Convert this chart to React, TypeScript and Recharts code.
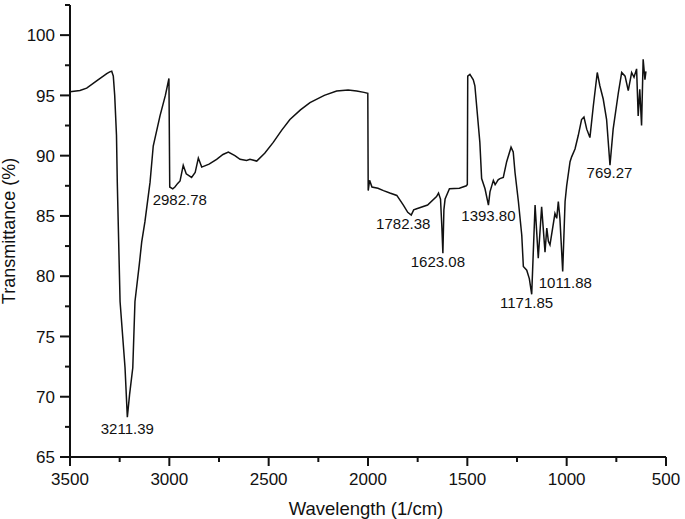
import React from 'react';
import { LineChart, Line, XAxis, YAxis, ReferenceDot } from 'recharts';

// wavenumber (1/cm) and transmittance (%)
const wavenumber = [
  3500, 3450, 3416, 3366, 3315, 3300, 3290, 3282, 3275, 3266, 3262, 3248, 3223, 3211.39,
  3200, 3184, 3173, 3151, 3139, 3123, 3097, 3081, 3047, 3020, 3002,
  2998, 2982.78, 2972, 2958, 2946, 2930, 2915, 2888, 2870, 2854, 2837, 2800, 2762, 2730,
  2703, 2670, 2644, 2611, 2594, 2560, 2520, 2477, 2435, 2393, 2340, 2292, 2220, 2158,
  2100, 2057, 2020, 2001,
  1999, 1992, 1980, 1950, 1922, 1890, 1855, 1822, 1800, 1782.38, 1770, 1755, 1700,
  1655, 1645, 1635, 1628, 1623.08, 1618, 1612, 1590, 1540, 1505, 1500,
  1498, 1487, 1470, 1462, 1437, 1428, 1411, 1393.8, 1386, 1369, 1360, 1352, 1345,
  1336, 1319, 1302, 1280, 1269, 1260, 1243, 1226, 1218, 1201, 1188, 1176,
  1159, 1143, 1126, 1109, 1100, 1092, 1084, 1059, 1050, 1042, 1034, 1020, 1008,
  1000, 983, 975, 958, 942, 925, 913, 899, 883, 866, 846, 833, 816, 799, 782,
  766, 740, 723, 706, 690, 673, 661, 648, 640, 632, 623, 615, 606, 601,
];

const transmittance = [
  95.3, 95.4, 95.6, 96.2, 96.8, 96.95, 97.0, 96.6, 95.0, 91.7, 87.8, 77.9, 72.4, 68.3,
  70.2, 72.4, 77.9, 81.0, 82.85, 84.5, 87.8, 90.8, 93.3, 95.0, 96.4,
  87.4, 87.25, 87.4, 87.7, 87.9, 89.2, 88.5, 88.2, 88.6, 89.8, 89.05, 89.3, 89.7, 90.1,
  90.3, 90.0, 89.7, 89.6, 89.7, 89.55, 90.2, 91.1, 92.1, 93.0, 93.8, 94.4, 95.0, 95.37,
  95.45, 95.37, 95.25, 95.17,
  87.1, 87.95, 87.4, 87.3, 87.1, 86.9, 86.7, 85.9, 85.3, 85.07, 85.5, 85.6, 85.9,
  86.6, 86.9, 86.4, 84.0, 81.9, 85.5, 86.4, 87.25, 87.3, 87.5, 87.6,
  96.6, 96.75, 96.3, 95.8, 91.1, 88.1, 87.25, 85.9, 87.0, 87.95, 87.6, 87.8, 88.0,
  88.1, 88.2, 89.5, 90.7, 90.3, 88.6, 86.2, 83.4, 80.8, 80.5, 79.8, 78.5,
  85.9, 81.5, 85.75, 82.0, 84.0, 82.9, 82.6, 85.2, 84.8, 86.2, 84.8, 80.4, 86.2,
  87.5, 89.5, 89.9, 90.55, 91.65, 93.0, 93.2, 92.2, 91.5, 94.1, 96.9, 95.8, 94.7, 93.0, 89.2,
  92.2, 95.2, 96.9, 96.6, 95.4, 96.9, 96.5, 97.2, 93.3, 95.5, 92.5, 98.0, 96.3, 97.0,
];

const peakWavenumbers = [3211.39, 2982.78, 1782.38, 1623.08, 1393.8, 1171.85, 1011.88, 769.27];
const peakTransmittance = [68.3, 87.25, 85.07, 81.9, 85.9, 78.5, 80.4, 89.2];
const peakLabels = ['3211.39', '2982.78', '1782.38', '1623.08', '1393.80', '1171.85', '1011.88', '769.27'];

const xTicks = [3500, 3250, 3000, 2750, 2500, 2250, 2000, 1750, 1500, 1250, 1000, 750, 500];
const yTicks = [65, 67.5, 70, 72.5, 75, 77.5, 80, 82.5, 85, 87.5, 90, 92.5, 95, 97.5, 100, 102.5];

const data = wavenumber.map((wn, i) => ({ wn, t: transmittance[i] }));

// small nudges so the peak labels sit where they do in the figure
const labelNudge = [
  { dx: 0, dy: 17 },
  { dx: 7, dy: 16 },
  { dx: -8, dy: 14 },
  { dx: -5, dy: 14 },
  { dx: 0, dy: 16 },
  { dx: -6, dy: 14 },
  { dx: 1, dy: 17 },
  { dx: -3, dy: 13 },
];

const font = '"Liberation Sans", Arial, Helvetica, sans-serif';

const YTick = (props: any) => {
  const { x, y, payload } = props;
  const major = payload.value % 5 === 0;
  return (
    <g>
      <line x1={x} y1={y} x2={x - (major ? 10 : 5)} y2={y} stroke="#111" strokeWidth={2} />
      {major && (
        <text x={x - 15} y={y} dy="0.36em" textAnchor="end" fontSize={17} fill="#111" fontFamily={font}>
          {payload.value}
        </text>
      )}
    </g>
  );
};

const XTick = (props: any) => {
  const { x, y, payload } = props;
  const major = payload.value % 500 === 0;
  return (
    <g>
      <line x1={x} y1={y} x2={x} y2={y + (major ? 9 : 5)} stroke="#111" strokeWidth={2} />
      {major && (
        <text x={x} y={y + 28} textAnchor="middle" fontSize={17} fill="#111" fontFamily={font}>
          {payload.value}
        </text>
      )}
    </g>
  );
};

const App = () => {
  return (
    <div style={{ position: 'absolute', left: 0, top: 0, background: '#fff' }}>
      <LineChart width={685} height={519} data={data} margin={{ top: 5, right: 19, bottom: 0, left: 0 }}>
        <XAxis
          dataKey="wn"
          type="number"
          domain={[500, 3500]}
          reversed
          ticks={xTicks}
          interval={0}
          height={62}
          tickSize={0}
          tickMargin={0}
          tick={<XTick />}
          stroke="#111"
          strokeWidth={2}
          allowDataOverflow
          label={{
            content: (p: any) => {
              const vb = p.viewBox;
              return (
                <text x={vb.x + vb.width / 2 - 2} y={515} textAnchor="middle" fontSize={18.5} fill="#111" fontFamily={font}>
                  Wavelength (1/cm)
                </text>
              );
            },
          }}
        />
        <YAxis
          type="number"
          domain={[65, 102.5]}
          ticks={yTicks}
          interval={0}
          width={70}
          tickSize={0}
          tickMargin={0}
          tick={<YTick />}
          stroke="#111"
          strokeWidth={2}
          allowDataOverflow
          label={{
            content: (p: any) => {
              const vb = p.viewBox;
              const cy = vb.y + vb.height / 2;
              return (
                <text
                  x={15}
                  y={cy}
                  transform={`rotate(-90, 15, ${cy})`}
                  textAnchor="middle"
                  fontSize={18}
                  fill="#111"
                  fontFamily={font}
                >
                  Transmittance (%)
                </text>
              );
            },
          }}
        />
        <Line
          type="linear"
          dataKey="t"
          stroke="#111"
          strokeWidth={1.5}
          dot={false}
          isAnimationActive={false}
        />
        {peakWavenumbers.map((wn, i) => (
          <ReferenceDot
            key={peakLabels[i]}
            x={wn}
            y={peakTransmittance[i]}
            r={0}
            ifOverflow="visible"
            shape={(p: any) => (
              <text
                x={p.cx + labelNudge[i].dx}
                y={p.cy + labelNudge[i].dy}
                textAnchor="middle"
                fontSize={15}
                fill="#111"
                fontFamily={font}
              >
                {peakLabels[i]}
              </text>
            )}
          />
        ))}
      </LineChart>
    </div>
  );
};

export default App;
